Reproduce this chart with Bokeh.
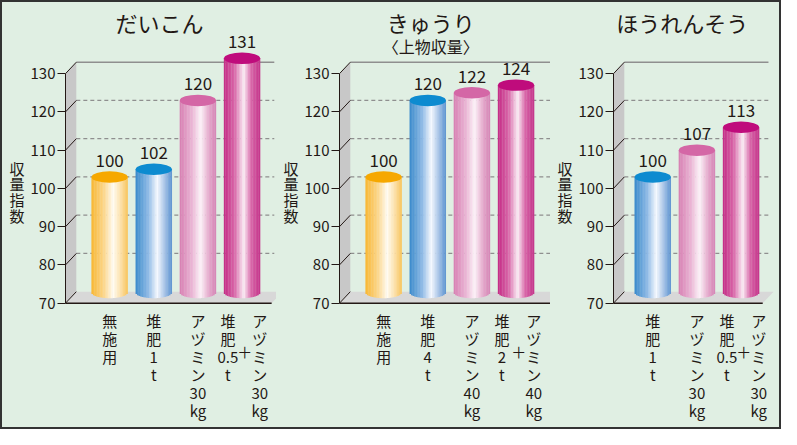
import re
import numpy as np
from bokeh.plotting import figure
from bokeh.layouts import row
from bokeh.models import Range1d, FixedTicker
from bokeh.core.properties import value
from bokeh.embed import file_html
from bokeh.resources import INLINE

# ---------------- data ----------------
titles = ["だいこん", "きゅうり", "ほうれんそう"]
kyuri_subtitle = "〈上物収量〉"
y_axis_title = "収量指数"
y_ticks = [70, 80, 90, 100, 110, 120, 130]

daikon_categories = ["無施用", "堆肥1t", "アヅミン30kg", "堆肥0.5t＋アヅミン30kg"]
daikon_values = [100, 102, 120, 131]

kyuri_categories = ["無施用", "堆肥4t", "アヅミン40kg", "堆肥2t＋アヅミン40kg"]
kyuri_values = [100, 120, 122, 124]

horenso_categories = ["堆肥1t", "アヅミン30kg", "堆肥0.5t＋アヅミン30kg"]
horenso_values = [100, 107, 113]

# ---------------- style ----------------
BG = "#e0efe3"
INK = "#231815"
FONT = "Noto Sans CJK JP"
DX = 0.245      # depth offset, x (index units)
DY = 3.0        # depth offset, y (value units)
BAR_W = 0.82
EH = 3.0        # ellipse height (value units)
BASE = 72.8
H = 425
Y0, Y1 = 37.5, 148.6

STOPS = {
    "無施用": [(0, "#f8b733"), (0.35, "#fcd78e"), (0.6, "#fffcf2"), (0.8, "#fde2ad"), (1.0, "#f9c45a")],
    "堆肥": [(0, "#3a8acb"), (0.35, "#8db9e6"), (0.6, "#f6f9ff"), (0.8, "#a9c4e8"), (1.0, "#5c93d0")],
    "アヅミン": [(0, "#d77fb2"), (0.35, "#ebb7d6"), (0.58, "#fdf3f9"), (0.8, "#e6abcd"), (1.0, "#d584b5")],
    "併用": [(0, "#c42c86"), (0.3, "#d968a9"), (0.55, "#fbeef6"), (0.75, "#d969aa"), (1.0, "#c4338a")],
}
TOP = {"無施用": "#f6a800", "堆肥": "#0d8bd0", "アヅミン": "#d467a6", "併用": "#bf0c7c"}


def kind(cat):
    if "＋" in cat:
        return "併用"
    if cat.startswith("堆肥"):
        return "堆肥"
    if cat.startswith("アヅミン"):
        return "アヅミン"
    return "無施用"


def vertical(s):
    return "\n".join(re.findall(r"[0-9.]+|[A-Za-z]+|.", s))


def hex2rgb(h):
    return np.array([int(h[i:i + 2], 16) for i in (1, 3, 5)], dtype=float)


def interp(stops, t):
    for (t0, c0), (t1, c1) in zip(stops[:-1], stops[1:]):
        if t0 <= t <= t1:
            f = (t - t0) / (t1 - t0)
            c = hex2rgb(c0) * (1 - f) + hex2rgb(c1) * f
            return "#%02x%02x%02x" % tuple(int(round(v)) for v in c)
    return stops[-1][1]


def make_panel(width, title, cats, vals, xr, grid_end, floor_end, title_x, subtitle=None):
    p = figure(width=width, height=H, x_range=Range1d(*xr), y_range=Range1d(Y0, Y1),
               output_backend="svg", toolbar_location=None, x_axis_type=None,
               min_border_left=63, min_border_right=0, min_border_top=0, min_border_bottom=0)
    p.grid.visible = False
    p.outline_line_color = None
    p.background_fill_color = BG
    p.border_fill_color = BG

    ax = p.yaxis[0]
    ax.bounds = (70, 130)
    ax.ticker = FixedTicker(ticks=y_ticks)
    ax.axis_line_color = INK
    ax.major_tick_line_color = INK
    ax.major_tick_out = 8
    ax.major_tick_in = 0
    ax.minor_tick_line_color = None
    ax.major_label_standoff = 2
    ax.major_label_text_font = FONT
    ax.major_label_text_font_size = "15px"
    ax.major_label_text_color = INK
    # stacked title; the trailing blank lines lift it to the middle of the 70-130 scale
    ax.axis_label = "\n".join(y_axis_title) + "\n　\n　\n　"
    ax.axis_label_orientation = "horizontal"
    ax.axis_label_text_font = FONT
    ax.axis_label_text_font_size = "15px"
    ax.axis_label_text_font_style = "normal"
    ax.axis_label_text_color = INK
    ax.axis_label_text_line_height = 0.74
    ax.axis_label_standoff = 3

    x0 = xr[0]
    lo, hi = y_ticks[0], y_ticks[-1]
    # left wall
    p.patch([x0, x0, x0 + DX, x0 + DX], [lo, hi, hi + DY, lo + DY], fill_color="#c8c8c8", line_color=None)
    # floor
    p.patch([x0, floor_end, floor_end + DX, x0 + DX], [lo, lo, lo + DY, lo + DY],
            fill_color="#d8d8d8", line_color=None)
    # back grid
    p.segment(x0=[x0 + DX] * 5, y0=[t + DY for t in y_ticks[1:-1]], x1=[grid_end] * 5,
              y1=[t + DY for t in y_ticks[1:-1]], line_color="#8f8f8f", line_width=1.2, line_dash="4 3")
    p.segment(x0=[x0 + DX], y0=[hi + DY], x1=[grid_end], y1=[hi + DY], line_color="#8f8f8f", line_width=1.5)

    # cylinders
    n = 24
    xs, bots, tops, cols = [], [], [], []
    for i, (c, v) in enumerate(zip(cats, vals)):
        st = STOPS[kind(c)]
        for k in range(n):
            t = (k + 0.5) / n
            u = 2 * t - 1
            xs.append(i - BAR_W / 2 + t * BAR_W)
            bots.append(BASE - EH / 2 * np.sqrt(max(0.0, 1 - u * u)))
            tops.append(v + DY)
            cols.append(interp(st, t))
    p.vbar(x=xs, bottom=bots, top=tops, width=BAR_W / n * 1.2, fill_color=cols, line_color=None)
    idx = list(range(len(vals)))
    p.ellipse(x=idx, y=[v + DY for v in vals], width=BAR_W, height=EH,
              fill_color=[TOP[kind(c)] for c in cats], line_color=None)

    # floor front edge and depth diagonals
    p.segment(x0=[x0], y0=[lo], x1=[floor_end], y1=[lo], line_color=INK, line_width=1.5)
    p.segment(x0=[x0] * len(y_ticks), y0=y_ticks, x1=[x0 + DX] * len(y_ticks),
              y1=[t + DY for t in y_ticks], line_color=INK, line_width=1)

    # value labels
    p.text(x=idx, y=[v + DY + 4.3 for v in vals], text=[str(v) for v in vals],
           text_align="center", text_baseline="alphabetic", text_font=value(FONT),
           text_font_size="17px", text_color=INK)

    # category labels (vertical)
    for i, c in enumerate(cats):
        kw = dict(text_baseline="top", text_align="center", text_font=value(FONT),
                  text_font_size="15px", text_color=INK, text_line_height=0.86)
        if "＋" in c:
            a, b = c.split("＋")
            p.text(x=[i - 0.32], y=[68.2], text=[vertical(a)], **kw)
            p.text(x=[i + 0.40], y=[68.2], text=[vertical(b)], **kw)
            p.text(x=[i + 0.06], y=[57.4], text=["＋"], text_baseline="middle", text_align="center",
                   text_font=value(FONT), text_font_size="15px", text_color=INK)
        else:
            p.text(x=[i], y=[68.2], text=[vertical(c)], **kw)

    # titles
    p.text(x=[title_x], y=[143.4], text=[title], text_align="center", text_baseline="middle",
           text_font=value(FONT), text_font_size="22px", text_color=INK)
    if subtitle:
        p.text(x=[title_x], y=[137.3], text=[subtitle], text_align="center", text_baseline="middle",
               text_font=value(FONT), text_font_size="16px", text_color=INK)
    return p


p1 = make_panel(274, titles[0], daikon_categories, daikon_values, (-1.0, 3.78), 3.73, 3.67, 1.13)
p2 = make_panel(274, titles[1], kyuri_categories, kyuri_values, (-1.0, 3.78), 3.78, 3.78, 1.07, kyuri_subtitle)
p3 = make_panel(229, titles[2], horenso_categories, horenso_values, (-0.889, 2.87), 2.62, 2.49, 0.67)

lay = row(p1, p2, p3, styles={"border": "2px solid #333333", "background-color": BG})
open("out.html", "w").write(file_html(lay, INLINE))
